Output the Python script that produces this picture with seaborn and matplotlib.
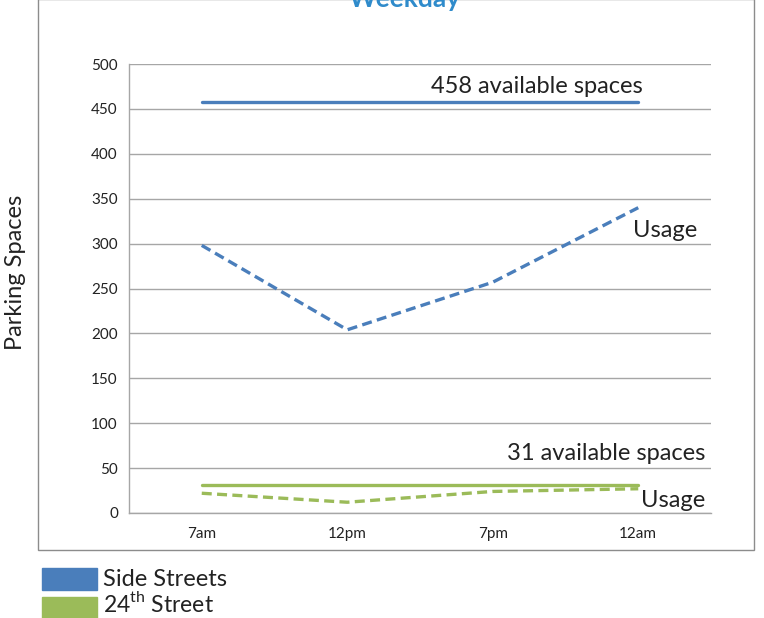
import matplotlib
matplotlib.use("Agg")
import matplotlib.pyplot as plt
import seaborn as sns
import pandas as pd
from matplotlib.patches import Rectangle

times = ["7am", "12pm", "7pm", "12am"]
side_usage = [298, 204, 257, 340]
side_available = [458, 458, 458, 458]
st24_usage = [22, 12, 24, 27]
st24_available = [31, 31, 31, 31]
y_ticks = [0, 50, 100, 150, 200, 250, 300, 350, 400, 450, 500]

BLUE = "#4A7EBB"
GREEN = "#9BBB59"
GRID = "#A6A6A6"
TXT = "#222222"

sns.set_style("white")
plt.rcParams['font.family'] = ['Lato', 'DejaVu Sans']

fig = plt.figure(figsize=(7.64, 6.18), dpi=100)
ax = fig.add_axes([129/764, 1-513/618, (711-129)/764, (513-64)/618])

pos = list(range(len(times)))
df = pd.DataFrame({
    "pos": pos * 4,
    "value": side_available + side_usage + st24_available + st24_usage,
    "series": ["sa"]*4 + ["su"]*4 + ["ga"]*4 + ["gu"]*4,
})

styles = {
    "sa": (BLUE, "-"),
    "su": (BLUE, (0, (3, 1.6))),
    "ga": (GREEN, "-"),
    "gu": (GREEN, (0, (3, 1.6))),
}
for key, (col, ls) in styles.items():
    sub = df[df.series == key]
    sns.lineplot(data=sub, x="pos", y="value", ax=ax, color=col,
                 linewidth=2.4, linestyle=ls, legend=False)

ax.set_xlim(-0.5, 3.5)
ax.set_ylim(0, 500)
ax.set_yticks(y_ticks)
ax.set_yticklabels([str(v) for v in y_ticks], fontsize=11, color=TXT)
ax.set_xticks(pos)
ax.set_xticklabels(times, fontsize=11, color=TXT)
ax.set_xticks([-0.5, 0.5, 1.5, 2.5, 3.5], minor=True)
ax.tick_params(axis="x", which="major", length=0, pad=10)
ax.tick_params(axis="x", which="minor", length=5, color=GRID, direction="out")
ax.tick_params(axis="y", length=5, color=GRID, direction="out", pad=3)
ax.set_xlabel("")
ax.set_ylabel("")
ax.yaxis.grid(True, color=GRID, linewidth=1)
ax.xaxis.grid(False)
for s in ["top", "right"]:
    ax.spines[s].set_visible(False)
for s in ["left", "bottom"]:
    ax.spines[s].set_color(GRID)
    ax.spines[s].set_linewidth(1)

# annotations
ax.text(2.30, 475.5, "458 available spaces", fontsize=17, color=TXT,
        ha="center", va="center")
ax.text(3.184, 315, "Usage", fontsize=17, color=TXT, ha="center", va="center")
ax.text(3.459, 66.8, "31 available spaces", fontsize=17, color=TXT,
        ha="right", va="center")
ax.text(3.459, 13.4, "Usage", fontsize=17, color=TXT, ha="right", va="center")

# y label
fig.text(16/764, 1-272/618, "Parking Spaces", rotation=90, fontsize=17,
         color=TXT, ha="center", va="center")

# title (cut off at top, as in the reference)
fig.text(405/764, 1+1/618, "Weekday", fontsize=19, fontweight="bold",
         color="#2F8BCB", ha="center", va="center")

# chart frame
fig.patches.append(Rectangle((38/764, 1-550/618), (754-38)/764, 551/618,
                             transform=fig.transFigure, fill=False,
                             edgecolor="#8C8C8C", linewidth=1))

# legend
fig.patches.append(Rectangle((42/764, 1-590/618), 55/764, 22/618,
                             transform=fig.transFigure, color=BLUE))
fig.patches.append(Rectangle((42/764, 1-618/618), 55/764, 21/618,
                             transform=fig.transFigure, color=GREEN))
fig.text(103/764, 1-580/618, "Side Streets", fontsize=17, color=TXT,
         ha="left", va="center")
fig.text(103/764, 1-603/618, r"24$^{\mathregular{th}}$ Street", fontsize=16.5,
         color=TXT, ha="left", va="center")

fig.savefig("out.png", dpi=100)
